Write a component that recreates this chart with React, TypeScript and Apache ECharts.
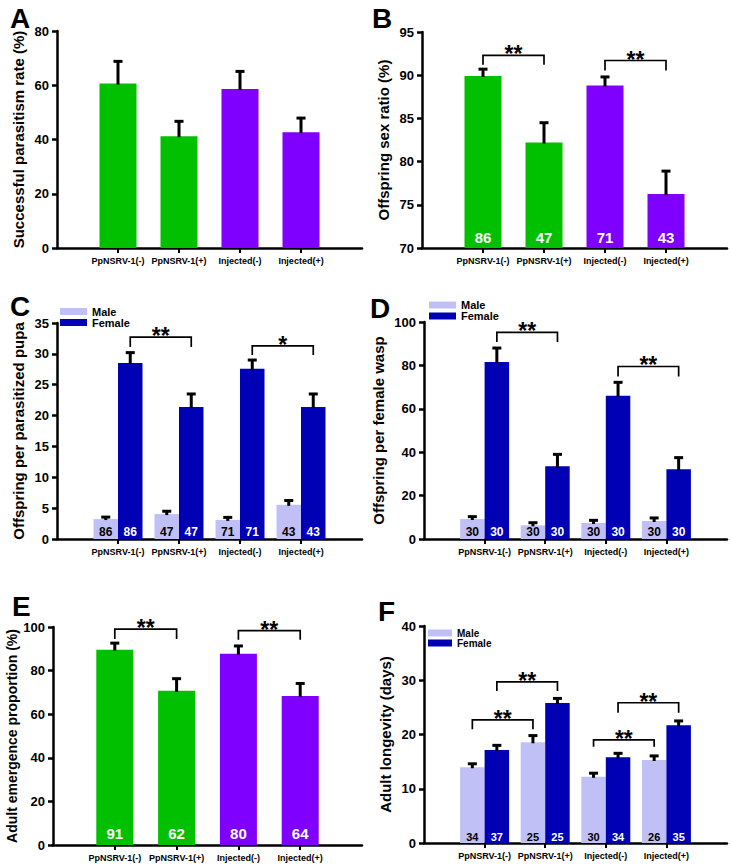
import React, { useEffect, useRef } from 'react';
import * as echarts from 'echarts';

// ---------- data ----------
const categories = ['PpNSRV-1(-)', 'PpNSRV-1(+)', 'Injected(-)', 'Injected(+)'];
const axisCats = ['', ...categories, ''];

const aMean = [60.6, 41.2, 58.6, 42.7];
const aSE = [8.2, 5.5, 6.5, 5.2];

const bMean = [89.9, 82.2, 88.8, 76.25];
const bSE = [0.8, 2.3, 1.0, 2.65];
const bN = [86, 47, 71, 43];

const cMale = [3.23, 4.04, 3.1, 5.54];
const cMaleSE = [0.32, 0.46, 0.4, 0.7];
const cFemale = [28.5, 21.4, 27.6, 21.4];
const cFemaleSE = [1.7, 2.1, 1.4, 2.1];
const cN = [86, 47, 71, 43];

const dMale = [9.2, 6.3, 7.4, 8.3];
const dMaleSE = [1.1, 1.2, 1.2, 1.4];
const dFemale = [81.6, 33.5, 66.0, 32.1];
const dFemaleSE = [6.4, 5.5, 6.2, 5.4];
const dN = [30, 30, 30, 30];

const eMean = [89.6, 70.7, 87.7, 68.4];
const eSE = [3.0, 5.6, 3.6, 5.7];
const eN = [91, 62, 80, 64];

const fMale = [13.97, 18.57, 12.2, 15.3];
const fMaleSE = [0.63, 1.23, 0.67, 0.75];
const fFemale = [17.15, 25.8, 15.8, 21.7];
const fFemaleSE = [0.85, 0.85, 0.73, 0.8];
const fMaleN = [34, 25, 30, 26];
const fFemaleN = [37, 25, 34, 35];

// brackets: from/to = [group index, bar (0 male/single, 1 female)]
const bBrackets = [
  { from: [0, 0], to: [1, 0], top: 92.3, leg: 91.2, mark: '**' },
  { from: [2, 0], to: [3, 0], top: 91.7, leg: 90.55, mark: '**' },
];
const cBrackets = [
  { from: [0, 1], to: [1, 1], top: 32.7, leg: 31.1, mark: '**' },
  { from: [2, 1], to: [3, 1], top: 31.3, leg: 29.8, mark: '*' },
];
const dBrackets = [
  { from: [0, 1], to: [1, 1], top: 95.2, leg: 90.8, mark: '**' },
  { from: [2, 1], to: [3, 1], top: 79.5, leg: 74.9, mark: '**' },
];
const eBrackets = [
  { from: [0, 0], to: [1, 0], top: 99.0, leg: 94.5, mark: '**' },
  { from: [2, 0], to: [3, 0], top: 98.3, leg: 94.2, mark: '**' },
];
const fBrackets = [
  { from: [0, 0], to: [1, 0], top: 22.7, leg: 20.95, mark: '**' },
  { from: [0, 1], to: [1, 1], top: 29.7, leg: 28.0, mark: '**' },
  { from: [2, 0], to: [3, 0], top: 19.0, leg: 17.75, mark: '**' },
  { from: [2, 1], to: [3, 1], top: 25.85, leg: 24.0, mark: '**' },
];

// ---------- styles ----------
const FONT = '"Liberation Sans", Arial, Helvetica, sans-serif';
const GREEN = '#00c000';
const PURPLE = '#8000ff';
const LAV = '#c0c0f6';
const NAVY = '#0000b4';
const groupColors = [GREEN, GREEN, PURPLE, PURPLE];
const SINGLE_W = 37;
const DOUBLE_W = 24.5;

const grids = [
  { left: 57, top: 31, width: 305, height: 217 },
  { left: 422, top: 32, width: 305, height: 216 },
  { left: 57, top: 323, width: 305, height: 216 },
  { left: 424, top: 322, width: 303, height: 217 },
  { left: 53, top: 627, width: 309, height: 218 },
  { left: 424, top: 626, width: 303, height: 217 },
];

const yDefs = [
  { min: 0, max: 80, interval: 20, name: 'Successful parasitism rate (%)', gap: 31, size: 15 },
  { min: 70, max: 95, interval: 5, name: 'Offspring sex ratio (%)', gap: 31, size: 15 },
  { min: 0, max: 35, interval: 5, name: 'Offspring per parasitized pupa', gap: 31, size: 15 },
  { min: 0, max: 100, interval: 20, name: 'Offspring per female wasp', gap: 38, size: 15 },
  { min: 0, max: 100, interval: 20, name: 'Adult emergence proportion (%)', gap: 31, size: 14 },
  { min: 0, max: 40, interval: 10, name: 'Adult longevity (days)', gap: 31, size: 15 },
];

const letters = [
  { t: 'A', x: 10, y: 4 },
  { t: 'B', x: 372, y: 4 },
  { t: 'C', x: 10, y: 292 },
  { t: 'D', x: 370, y: 294 },
  { t: 'E', x: 12, y: 592 },
  { t: 'F', x: 378, y: 597 },
];

function singleBars(gi: number, name: string, means: number[], n: number[] | null, labelSize: number, dist: number) {
  return {
    type: 'bar',
    name,
    xAxisIndex: gi,
    yAxisIndex: gi,
    barWidth: SINGLE_W,
    data: means.map((v, i) => ({ value: [i + 1, v], itemStyle: { color: groupColors[i] } })),
    label: n
      ? {
          show: true,
          position: 'insideBottom',
          distance: dist,
          color: '#fff',
          fontWeight: 'bold',
          fontSize: labelSize,
          fontFamily: FONT,
          formatter: (p: any) => String(n[p.dataIndex]),
        }
      : { show: false },
    silent: true,
  };
}

function pairBars(gi: number, name: string, means: number[], color: string, n: number[], labelColor: string, labelSize: number, dist: number) {
  return {
    type: 'bar',
    name,
    xAxisIndex: gi,
    yAxisIndex: gi,
    barWidth: DOUBLE_W,
    barGap: '0%',
    itemStyle: { color },
    data: means.map((v, i) => [i + 1, v]),
    label: {
      show: true,
      position: 'insideBottom',
      distance: dist,
      color: labelColor,
      fontWeight: 'bold',
      fontSize: labelSize,
      fontFamily: FONT,
      formatter: (p: any) => String(n[p.dataIndex]),
    },
    silent: true,
  };
}

function errorBars(gi: number, means: number[], se: number[], offset: number) {
  return {
    type: 'custom',
    xAxisIndex: gi,
    yAxisIndex: gi,
    z: 5,
    silent: true,
    encode: { x: 0, y: [1, 2] },
    data: means.map((m, i) => [i + 1, m, m + se[i]]),
    renderItem: (params: any, api: any) => {
      const x = api.value(0);
      const p0 = api.coord([x, api.value(1)]);
      const p1 = api.coord([x, api.value(2)]);
      const cx = p0[0] + offset;
      return {
        type: 'group',
        children: [
          { type: 'line', shape: { x1: cx, y1: p0[1] + 1, x2: cx, y2: p1[1] }, style: { stroke: '#000', lineWidth: 3 } },
          { type: 'line', shape: { x1: cx - 4.5, y1: p1[1], x2: cx + 4.5, y2: p1[1] }, style: { stroke: '#000', lineWidth: 3 } },
        ],
      };
    },
  };
}

function brackets(gi: number, list: any[], offs: number[]) {
  return {
    type: 'custom',
    xAxisIndex: gi,
    yAxisIndex: gi,
    z: 6,
    silent: true,
    encode: { x: 0, y: 1 },
    data: list.map((b) => [b.from[0] + 1, b.top]),
    renderItem: (params: any, api: any) => {
      const b = list[params.dataIndex];
      const pa = api.coord([b.from[0] + 1, b.top]);
      const pb = api.coord([b.to[0] + 1, b.top]);
      const yLeg = api.coord([b.from[0] + 1, b.leg])[1];
      const x1 = pa[0] + offs[b.from[1]];
      const x2 = pb[0] + offs[b.to[1]];
      const yTop = pa[1];
      return {
        type: 'group',
        children: [
          {
            type: 'polyline',
            shape: { points: [[x1, yLeg], [x1, yTop], [x2, yTop], [x2, yLeg]] },
            style: { stroke: '#000', lineWidth: 1.7, fill: 'none' },
          },
          {
            type: 'text',
            x: (x1 + x2) / 2,
            y: yTop - 1,
            style: {
              text: b.mark,
              fill: '#000',
              font: `bold 23px ${FONT}`,
              align: 'center',
              verticalAlign: 'middle',
            },
          },
        ],
      };
    },
  };
}

const singleOff = [0, 0];
const pairOff = [-DOUBLE_W / 2, DOUBLE_W / 2];

function buildOption() {
  const xAxis = grids.map((_, gi) => ({
    type: 'category',
    gridIndex: gi,
    data: axisCats,
    boundaryGap: false,
    axisLine: { show: true, onZero: false, lineStyle: { color: '#000', width: 2.5 } },
    axisTick: {
      show: true,
      length: 5,
      interval: (i: number) => i > 0 && i < axisCats.length - 1,
      lineStyle: { color: '#000', width: 2 },
    },
    axisLabel: {
      interval: 0,
      color: '#000',
      fontWeight: 'bold',
      fontSize: 9,
      fontFamily: FONT,
      margin: 8,
    },
    splitLine: { show: false },
  }));
  const yAxis = yDefs.map((d, gi) => ({
    type: 'value',
    gridIndex: gi,
    min: d.min,
    max: d.max,
    interval: d.interval,
    name: d.name,
    nameLocation: 'middle',
    nameGap: d.gap,
    nameRotate: 90,
    nameTextStyle: { color: '#000', fontWeight: 'bold', fontSize: d.size, fontFamily: FONT },
    axisLine: { show: true, lineStyle: { color: '#000', width: 2.5 } },
    axisTick: { show: true, length: 5, lineStyle: { color: '#000', width: 2.5 } },
    axisLabel: { color: '#000', fontWeight: 'bold', fontSize: 13, fontFamily: FONT, margin: 8 },
    splitLine: { show: false },
  }));

  const series: any[] = [
    // A
    singleBars(0, 'A', aMean, null, 15, 3),
    errorBars(0, aMean, aSE, 0),
    // B
    singleBars(1, 'B', bMean, bN, 15, 3),
    errorBars(1, bMean, bSE, 0),
    brackets(1, bBrackets, singleOff),
    // C
    pairBars(2, 'Male', cMale, LAV, cN, '#000', 12, 1),
    pairBars(2, 'Female', cFemale, NAVY, cN, '#fff', 12, 1),
    errorBars(2, cMale, cMaleSE, pairOff[0]),
    errorBars(2, cFemale, cFemaleSE, pairOff[1]),
    brackets(2, cBrackets, pairOff),
    // D
    pairBars(3, 'Male', dMale, LAV, dN, '#000', 12, 1),
    pairBars(3, 'Female', dFemale, NAVY, dN, '#fff', 12, 1),
    errorBars(3, dMale, dMaleSE, pairOff[0]),
    errorBars(3, dFemale, dFemaleSE, pairOff[1]),
    brackets(3, dBrackets, pairOff),
    // E
    singleBars(4, 'E', eMean, eN, 15, 4),
    errorBars(4, eMean, eSE, 0),
    brackets(4, eBrackets, singleOff),
    // F
    pairBars(5, 'Male', fMale, LAV, fMaleN, '#000', 11, 1),
    pairBars(5, 'Female', fFemale, NAVY, fFemaleN, '#fff', 11, 1),
    errorBars(5, fMale, fMaleSE, pairOff[0]),
    errorBars(5, fFemale, fFemaleSE, pairOff[1]),
    brackets(5, fBrackets, pairOff),
  ];

  const legendBase = {
    data: ['Male', 'Female'],
    orient: 'vertical',
    icon: 'rect',
    selectedMode: false,
    padding: 0,
    itemGap: 0,
  };

  return {
    animation: false,
    backgroundColor: '#fff',
    textStyle: { fontFamily: FONT },
    grid: grids.map((g) => ({ ...g, containLabel: false })),
    xAxis,
    yAxis,
    series,
    legend: [
      { ...legendBase, left: 60, top: 306, itemWidth: 27, itemHeight: 7, textStyle: { fontSize: 11, fontWeight: 'bold', color: '#000', lineHeight: 11 } },
      { ...legendBase, left: 429, top: 299.5, itemWidth: 27, itemHeight: 7, textStyle: { fontSize: 11, fontWeight: 'bold', color: '#000', lineHeight: 11 } },
      { ...legendBase, left: 428, top: 628, itemWidth: 24, itemHeight: 7, textStyle: { fontSize: 10, fontWeight: 'bold', color: '#000', lineHeight: 9.3 } },
    ],
    graphic: letters.map((l) => ({
      type: 'text',
      left: l.x,
      top: l.y,
      style: { text: l.t, fill: '#000', font: `bold 28px ${FONT}`, lineHeight: 22 },
    })),
  };
}

export default function App() {
  const ref = useRef<HTMLDivElement>(null);
  useEffect(() => {
    if (!ref.current) return;
    const chart = echarts.init(ref.current, null, { renderer: 'svg' });
    chart.setOption(buildOption() as any);
    return () => chart.dispose();
  }, []);
  return (
    <div
      ref={ref}
      style={{ position: 'absolute', left: 0, top: 0, width: 731, height: 864, background: '#fff' }}
    />
  );
}
